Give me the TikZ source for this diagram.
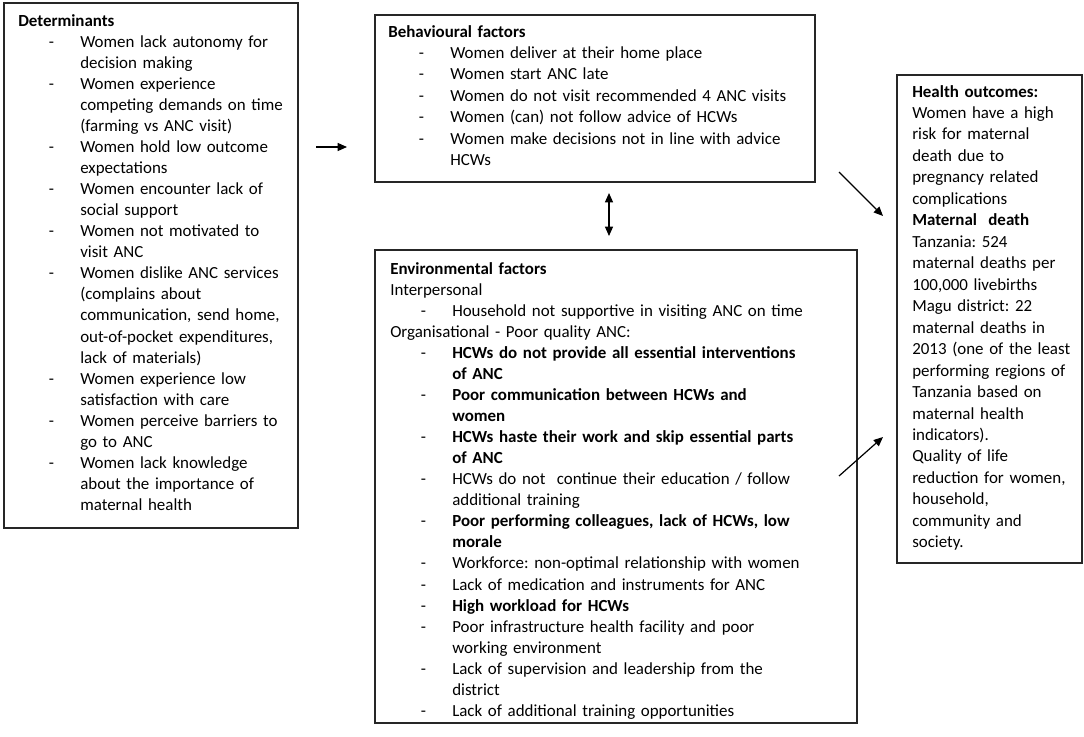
\documentclass[tikz,border=0pt]{standalone}
\usepackage{fontspec}
\setmainfont{Carlito}
\usetikzlibrary{fit,arrows.meta}
\newcommand{\itm}[1]{\par\hangindent=46.5pt\hangafter=1\noindent\makebox[46.5pt][l]{\hspace{23pt}-}#1\par}
\newcommand{\plain}[1]{\par\hangindent=0pt\noindent #1}
\begin{document}
\begin{tikzpicture}[x=0.75pt,y=-0.75pt,
  box/.style={draw=black!85, line width=1.3pt, inner sep=0pt},
  txt/.style={anchor=base west, inner sep=0pt, align=left, font=\fontsize{12.7}{15.8}\selectfont\frenchspacing},
  txtb/.style={txt, font=\fontsize{12.7}{16.1}\selectfont\frenchspacing},
  conn/.style={line width=0.9pt, -{Triangle[length=7pt,width=6pt]}},
  dconn/.style={line width=0.9pt, {Triangle[length=7pt,width=6pt]}-{Triangle[length=7pt,width=6pt]}}]
\useasboundingbox[fill=white] (0,0) rectangle (1084,736);
% boxes
\node[box, fit={(4,3) (298,528)}] (det) {};
\node[box, fit={(375,15) (815,182)}] (beh) {};
\node[box, fit={(375,250) (857,723)}] (env) {};
\node[box, fit={(897,75) (1082,563)}] (out) {};
% texts
\node[txt, text width=210pt] (dett) at (18,26) {%
\textbf{Determinants}
\itm{Women lack autonomy for\newline decision making}
\itm{Women experience\newline competing demands on time\newline (farming vs ANC visit)}
\itm{Women hold low outcome\newline expectations}
\itm{Women encounter lack of\newline social support}
\itm{Women not motivated to\newline visit ANC}
\itm{Women dislike ANC services\newline (complains about\newline communication, send home,\newline out-of-pocket expenditures,\newline lack of materials)}
\itm{Women experience low\newline satisfaction with care}
\itm{Women perceive barriers to\newline go to ANC}
\itm{Women lack knowledge\newline about the importance of\newline maternal health}};
\node[txtb, text width=320pt] (beht) at (388,37) {%
\textbf{Behavioural factors}
\itm{Women deliver at their home place}
\itm{Women start ANC late}
\itm{Women do not visit recommended 4 ANC visits}
\itm{Women (can) not follow advice of HCWs}
\itm{Women make decisions not in line with advice\newline HCWs}};
\node[txt, text width=350pt] (envt) at (390,274) {%
\textbf{Environmental factors}
\plain{Interpersonal}
\itm{Household not supportive in visiting ANC on time}
\plain{Organisational - Poor quality ANC:}
\itm{\textbf{HCWs do not provide all essential interventions\newline of ANC}}
\itm{\textbf{Poor communication between HCWs and\newline women}}
\itm{\textbf{HCWs haste their work and skip essential parts\newline of ANC}}
\itm{HCWs do not~~continue their education / follow\newline additional training}
\itm{\textbf{Poor performing colleagues, lack of HCWs, low\newline morale}}
\itm{Workforce: non-optimal relationship with women}
\itm{Lack of medication and instruments for ANC}
\itm{\textbf{High workload for HCWs}}
\itm{Poor infrastructure health facility and poor\newline working environment}
\itm{Lack of supervision and leadership from the\newline district}
\itm{Lack of additional training opportunities}};
\node[txtb, text width=130pt] (outt) at (912,97) {%
\textbf{Health outcomes:}\newline
Women have a high\newline
risk for maternal\newline
death due to\newline
pregnancy related\newline
complications\newline
\textbf{Maternal~~death}\newline
Tanzania: 524\newline
maternal deaths per\newline
100,000 livebirths\newline
Magu district: 22\newline
maternal deaths in\newline
2013 (one of the least\newline
performing regions of\newline
Tanzania based on\newline
maternal health\newline
indicators).\newline
Quality of life\newline
reduction for women,\newline
household,\newline
community and\newline
society.};
% connector ends
\coordinate (a1s) at (316,147);
\coordinate (a1e) at (347,147);
\coordinate (a2s) at (609,193);
\coordinate (a2e) at (609,236);
\coordinate (a3s) at (839,172);
\coordinate (a3e) at (883,216);
\coordinate (a4s) at (839,476);
\coordinate (a4e) at (883,437);
\draw[conn] (a1s) -- (a1e);
\draw[dconn] (a2s) -- (a2e);
\draw[conn] (a3s) -- (a3e);
\draw[conn] (a4s) -- (a4e);
\end{tikzpicture}
\end{document}
